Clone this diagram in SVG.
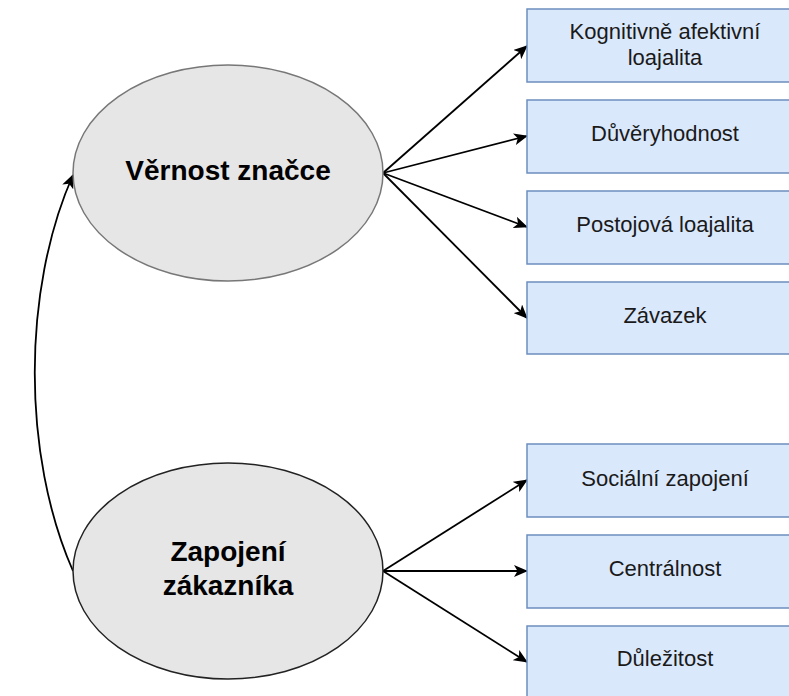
<svg xmlns="http://www.w3.org/2000/svg" width="789" height="696" viewBox="0 0 789 696">
<style>
.box{fill:#dae8fc;stroke:#6c8ebf;stroke-width:1.5}
.ell{fill:#e6e6e6;stroke:#555;stroke-width:1.5}
.bt{font-family:"Liberation Sans",Arial,sans-serif;font-size:22px;fill:#1a1a1a;text-anchor:middle}
.et{font-family:"Liberation Sans",Arial,sans-serif;font-size:28px;font-weight:bold;fill:#000;text-anchor:middle}
.edge{fill:none;stroke:#000;stroke-width:1.8}
</style>
<defs>
<marker id="arr" viewBox="0 0 14 12" refX="13" refY="6" markerWidth="14" markerHeight="12" markerUnits="userSpaceOnUse" orient="auto">
<path d="M0,0 L14,6 L0,12 L3.5,6 z" fill="#000"/>
</marker>
</defs>
<rect width="789" height="696" fill="#fff"/>
<g id="connectors">
<path class="edge" d="M383,173 L527,46" marker-end="url(#arr)"/>
<path class="edge" d="M383,173 L527,136" marker-end="url(#arr)"/>
<path class="edge" d="M383,173 L527,227" marker-end="url(#arr)"/>
<path class="edge" d="M383,173 L527,318" marker-end="url(#arr)"/>
<path class="edge" d="M383,571 L527,480" marker-end="url(#arr)"/>
<path class="edge" d="M383,571 L527,571" marker-end="url(#arr)"/>
<path class="edge" d="M383,571 L527,662" marker-end="url(#arr)"/>
<path class="edge" d="M73,571 C22,455 22,290 73,175" marker-end="url(#arr)"/>
</g>
<g id="vernost">
<ellipse class="ell" cx="228" cy="173" rx="155" ry="108" style="stroke:#777"/>
<text class="et" x="228" y="180">Věrnost značce</text>
</g>
<g id="zapojeni">
<ellipse class="ell" cx="228" cy="571" rx="155" ry="108" style="stroke:#222"/>
<text class="et" x="228" y="561">Zapojení</text>
<text class="et" x="228" y="595">zákazníka</text>
</g>
<g id="kognitivne">
<rect class="box" x="527" y="9" width="276" height="73"/>
<text class="bt" x="665" y="39">Kognitivně afektivní</text>
<text class="bt" x="665" y="65">loajalita</text>
</g>
<g id="duveryhodnost">
<rect class="box" x="527" y="100" width="276" height="73"/>
<text class="bt" x="665" y="141">Důvěryhodnost</text>
</g>
<g id="postojova">
<rect class="box" x="527" y="191" width="276" height="73"/>
<text class="bt" x="665" y="232">Postojová loajalita</text>
</g>
<g id="zavazek">
<rect class="box" x="527" y="282" width="276" height="72"/>
<text class="bt" x="665" y="323">Závazek</text>
</g>
<g id="socialni">
<rect class="box" x="527" y="444" width="276" height="73"/>
<text class="bt" x="665" y="486">Sociální zapojení</text>
</g>
<g id="centralnost">
<rect class="box" x="527" y="535" width="276" height="73"/>
<text class="bt" x="665" y="576">Centrálnost</text>
</g>
<g id="dulezitost">
<rect class="box" x="527" y="626" width="276" height="73"/>
<text class="bt" x="665" y="666">Důležitost</text>
</g>
</svg>
